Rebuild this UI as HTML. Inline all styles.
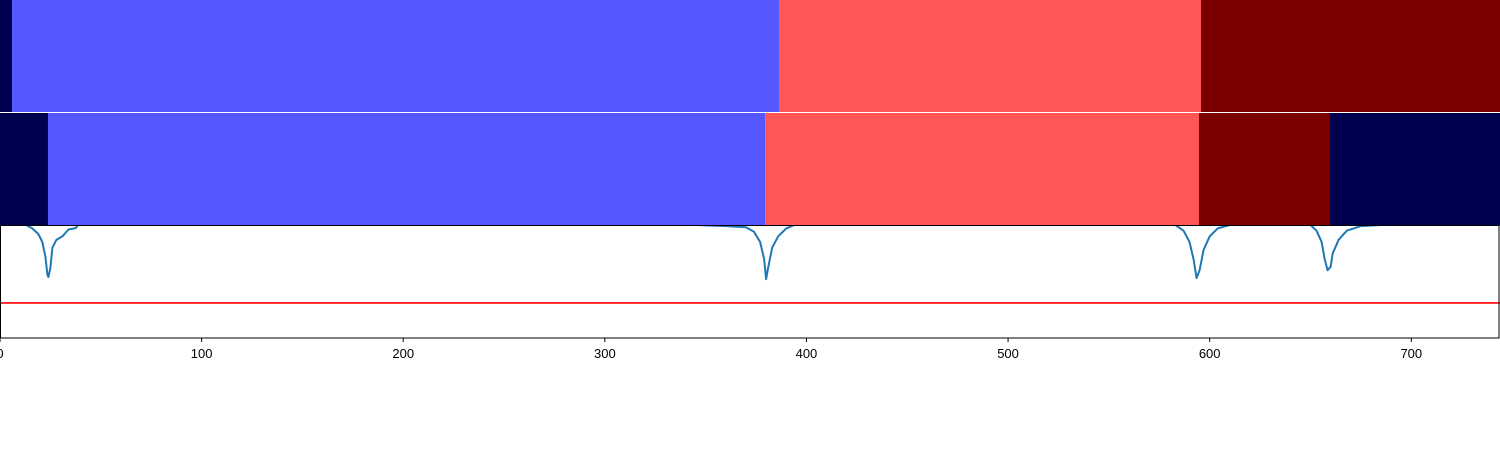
<!DOCTYPE html>
<html><head><meta charset="utf-8"><style>
body{margin:0;background:#fff;width:1500px;height:450px;overflow:hidden;font-family:"Liberation Sans","DejaVu Sans",sans-serif}
</style></head><body>
<svg id="chart" width="1500" height="450" xmlns="http://www.w3.org/2000/svg">
<defs><clipPath id="lc"><rect x="0" y="225" width="1500" height="113"/></clipPath></defs>
<g id="bars"></g>
<g id="line" clip-path="url(#lc)"></g>
<g id="axes"></g>
</svg>
<script>
const xMax = 744;
const row1Bounds = [0, 6, 386.4, 595.7, 744];
const row1Colors = ["#000050", "#5757ff", "#ff5757", "#7a0000"];
const row2Bounds = [0, 23.8, 379.5, 594.7, 659.7, 744];
const row2Colors = ["#000050", "#5757ff", "#ff5757", "#7a0000", "#000050"];
const lineX = [0,13,16,19,21,22.5,23.5,24,25,26,28,31,34,37,38,39,345,360,370,374,377,379,380,381,383,386,390,394,583,587,590,592,593.5,595,597,600,604,610,650,653,655.5,657,658.5,660,661,664,668,675,685,744];
const lineY = [1.02,1.0,0.97,0.92,0.85,0.72,0.56,0.54,0.62,0.8,0.87,0.9,0.96,0.97,0.98,1.02,1.0,0.99,0.98,0.94,0.85,0.7,0.52,0.62,0.8,0.9,0.97,1.0,1.0,0.95,0.85,0.7,0.53,0.6,0.78,0.9,0.97,1.0,1.0,0.95,0.85,0.7,0.6,0.63,0.75,0.87,0.95,0.99,1.0,1.0];
const threshold = 0.31;
const ticks = [0,100,200,300,400,500,600,700];
const NS = "http://www.w3.org/2000/svg";
const W = 1500;
const sx = v => v / xMax * W;
const sy = v => 338 - v * 113;
function mk(tag, attrs, parent){const e=document.createElementNS(NS,tag);for(const k in attrs)e.setAttribute(k,attrs[k]);parent.appendChild(e);return e;}
const bars = document.getElementById('bars');
function drawRow(bounds, colors, y0, h, rowName){
  for(let i=0;i<colors.length;i++){
    const r = mk('rect',{x:sx(bounds[i]),y:y0,width:sx(bounds[i+1])-sx(bounds[i]),height:h,fill:colors[i]},bars);
    
    
  }
}
drawRow(row1Bounds,row1Colors,0,112,'row1');
drawRow(row2Bounds,row2Colors,113,112,'row2');
const line = document.getElementById('line');
const th = mk('line',{x1:0,x2:W,y1:sy(threshold),y2:sy(threshold),stroke:"#ff0000","stroke-width":1.6},line);


const d = lineX.map((x,i)=>(i?'L':'M')+sx(x).toFixed(1)+','+sy(lineY[i]).toFixed(1)).join(' ');
const p = mk('path',{d:d,fill:"none",stroke:"#1f77b4","stroke-width":2,"stroke-linejoin":"round"},line);


const axes = document.getElementById('axes');
const fr = mk('rect',{x:0.5,y:225.5,width:1498.5,height:112.5,fill:"none",stroke:"#000","stroke-width":1},axes);


ticks.forEach(t=>{
  const x = sx(t);
  const tk = mk('line',{x1:x,x2:x,y1:338,y2:342,stroke:"#000","stroke-width":1},axes);
  
  
  const tx = mk('text',{x:x,y:358,"text-anchor":"middle","font-size":13,fill:"#000"},axes);
  tx.textContent = t;
  
  
});
</script>
</body></html>
